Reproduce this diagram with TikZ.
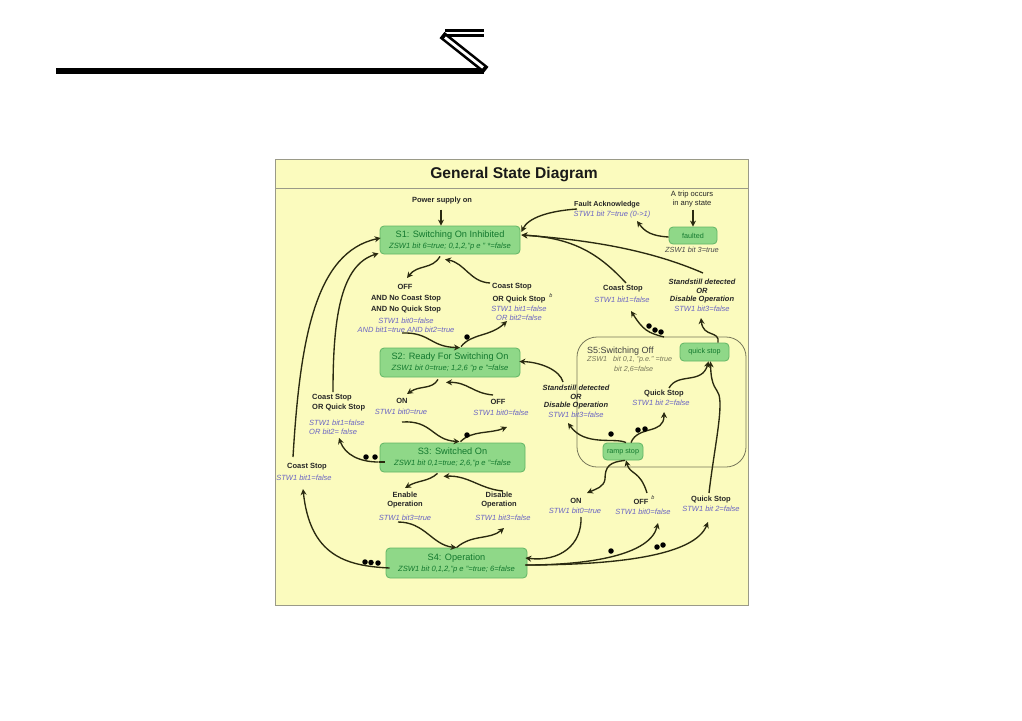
\documentclass[tikz,border=0pt]{standalone}
\usepackage{fontspec}
\setmainfont{Liberation Sans}
\usetikzlibrary{arrows.meta,calc}
\definecolor{panelbg}{HTML}{FBFBBE}
\definecolor{panelln}{HTML}{9A9A88}
\definecolor{stfill}{HTML}{8FD888}
\definecolor{stline}{HTML}{62B565}
\definecolor{stgreen}{HTML}{13782E}
\definecolor{stwblue}{HTML}{6A64C4}
\definecolor{wire}{HTML}{2A2A10}
\definecolor{sfive}{HTML}{77775A}
\tikzset{
  x=1pt,y=-1pt,
  statebox/.style={draw=stline,line width=.8pt,fill=stfill,rounded corners=4pt,inner sep=0pt,align=center,text=stgreen},
  small state/.style={statebox,font=\fontsize{7.2}{8}\selectfont},
  blab/.style={inner sep=0pt,font=\fontsize{7.5}{9}\selectfont\bfseries,text=black!85,align=center},
  blabi/.style={blab,font=\fontsize{7.5}{9}\selectfont\bfseries\itshape},
  stw/.style={inner sep=0pt,font=\fontsize{7.5}{9}\selectfont\itshape,text=stwblue,align=center},
  zsw/.style={inner sep=0pt,font=\fontsize{7.4}{9}\selectfont\itshape,text=black!70,align=center},
  sup/.style={inner sep=0pt,font=\fontsize{5.5}{6}\selectfont\itshape,text=black!80},
  trans/.style={draw=wire,line width=1.35pt,-{Stealth[length=6pt,width=6pt]}},
  plainwire/.style={draw=wire,line width=1.35pt},
  marker/.style={circle,fill=black,inner sep=0pt,minimum size=5.5pt},
}
\newcommand{\sttl}[1]{{\fontsize{9.2}{11}\selectfont #1}}
\newcommand{\ssub}[1]{{\fontsize{7.6}{11}\selectfont\itshape #1}}
\begin{document}
\begin{tikzpicture}
\useasboundingbox (0,0) rectangle (1022,720);
% page glyph
\fill[black] (56,68) rectangle (484,74);
\fill[black] (445,29) rectangle (484,32);
\fill[black] (445,34) rectangle (484,37);
\draw[black,line width=8pt] (442,35) -- (486,70);
\draw[white,line width=2.8pt] (445,37.5) -- (483,67.5);
% panel
\draw[panelln,line width=.8pt,fill=panelbg] (275,159) rectangle (748,605);
\draw[panelln,line width=.6pt] (275,188) -- (748,188);
\node[inner sep=0pt,font=\fontsize{15.6}{18}\selectfont\bfseries,text=black!90] (title) at (514,174) {General State Diagram};
% S5 container
\draw[sfive,line width=.8pt,rounded corners=20pt] (577,337) rectangle (746,467);
% states
\node[statebox,minimum width=140pt,minimum height=28pt] (s1) at (450,240) {\sttl{S1: Switching On Inhibited}\\[-1pt]\ssub{ZSW1 bit 6=true; 0,1,2,"p e " *=false}};
\node[statebox,minimum width=140pt,minimum height=29pt] (s2) at (450,362.5) {\sttl{S2: Ready For Switching On}\\[-1pt]\ssub{ZSW1 bit 0=true; 1,2,6 "p e "=false}};
\node[statebox,minimum width=145pt,minimum height=29pt] (s3) at (452.5,457.5) {\sttl{S3: Switched On}\\[-1pt]\ssub{ZSW1 bit 0,1=true; 2,6,"p e "=false}};
\node[statebox,minimum width=141pt,minimum height=30pt] (s4) at (456.5,563) {\sttl{S4: Operation}\\[-1pt]\ssub{ZSW1 bit 0,1,2,"p e "=true; 6=false}};
\node[small state,minimum width=48pt,minimum height=17pt] (fault) at (693,235.5) {faulted};
\node[small state,minimum width=49pt,minimum height=18pt] (qstop) at (704.5,352) {quick stop};
\node[small state,minimum width=40pt,minimum height=17pt] (rstop) at (623,451.5) {ramp stop};
% S5 texts
\node[inner sep=0pt,anchor=west,font=\fontsize{9}{11}\selectfont,text=black!75] (s5t) at (587,351) {S5:Switching Off};
\node[inner sep=0pt,anchor=west,font=\fontsize{7.2}{9}\selectfont\itshape,text=sfive] (s5a) at (587,360) {ZSW1\ \ \ bit 0,1, "p.e." =true};
\node[inner sep=0pt,anchor=west,font=\fontsize{7.2}{9}\selectfont\itshape,text=sfive] (s5b) at (614,369) {bit 2,6=false};
% labels
\node[blab] (power) at (442,201) {Power supply on};
\node[blab] (off1) at (405,287) {OFF};
\node[blab] (off1a) at (406,298.5) {AND No Coast Stop};
\node[blab] (off1b) at (406,310) {AND No Quick Stop};
\node[stw] (off1c) at (406,321) {STW1 bit0=false};
\node[stw] (off1d) at (406,330) {AND bit1=true AND bit2=true};
\node[blab] (cq1) at (512,287) {Coast Stop};
\node[blab] (cq1a) at (519,300) {OR Quick Stop};
\node[sup] (b1) at (551,296) {b};
\node[stw] (cq1b) at (519,309) {STW1 bit1=false};
\node[stw] (cq1c) at (519,318) {OR bit2=false};
\node[blab] (on2) at (402,401) {ON};
\node[stw] (on2a) at (401,412) {STW1 bit0=true};
\node[blab] (off2) at (498,402) {OFF};
\node[stw] (off2a) at (501,413) {STW1 bit0=false};
\node[blab,anchor=west] (cq3) at (312,398) {Coast Stop};
\node[blab,anchor=west] (cq3a) at (312,408) {OR Quick Stop};
\node[stw,anchor=west] (cq3b) at (309,423) {STW1 bit1=false};
\node[stw,anchor=west] (cq3c) at (309,432) {OR bit2= false};
\node[blab] (cs4) at (307,467) {Coast Stop};
\node[stw] (cs4a) at (304,478) {STW1 bit1=false};
\node[blab] (en) at (405,500.5) {Enable\\Operation};
\node[stw] (ena) at (405,518) {STW1 bit3=true};
\node[blab] (dis) at (499,500.5) {Disable\\Operation};
\node[stw] (disa) at (503,518) {STW1 bit3=false};
\node[blab,font=\fontsize{7.2}{9}\selectfont\bfseries] (ack) at (607,205) {Fault Acknowledge};
\node[stw] (acka) at (612,215) {STW1 bit 7=true (0->1)};
\node[blab,font=\fontsize{7.6}{9}\selectfont] (trip) at (692,199.5) {A trip occurs\\in any state};
\node[zsw] (fz) at (692,250) {ZSW1 bit 3=true};
\node[blab] (cs5) at (623,289) {Coast Stop};
\node[stw] (cs5a) at (622,300) {STW1 bit1=false};
\node[blabi] (ss1) at (702,282) {Standstill detected};
\node[blabi] (ss1a) at (702,291) {OR};
\node[blabi] (ss1b) at (702,300) {Disable Operation};
\node[stw] (ss1c) at (702,309) {STW1 bit3=false};
\node[blab] (qs1) at (664,394) {Quick Stop};
\node[stw] (qs1a) at (661,403) {STW1 bit 2=false};
\node[blabi] (ss2) at (576,388) {Standstill detected};
\node[blabi] (ss2a) at (576,397) {OR};
\node[blabi] (ss2b) at (576,406) {Disable Operation};
\node[stw] (ss2c) at (576,415) {STW1 bit3=false};
\node[blab] (on5) at (576,501) {ON};
\node[stw] (on5a) at (575,511) {STW1 bit0=true};
\node[blab] (off5) at (641,502) {OFF};
\node[sup] (b5) at (653,498) {b};
\node[stw] (off5a) at (643,512) {STW1 bit0=false};
\node[blab] (qs5) at (711,500) {Quick Stop};
\node[stw] (qs5a) at (711,509) {STW1 bit 2=false};
% free ends
\coordinate (e1) at (407,278);
\coordinate (e2) at (490,283);
\coordinate (e3) at (293,457);
\coordinate (e4) at (333,392);
\coordinate (e5) at (402,333);
\coordinate (e6) at (507,321);
\coordinate (e7) at (407,394);
\coordinate (e8) at (493,395);
\coordinate (e9) at (402,422);
\coordinate (e10) at (507,427);
\coordinate (e11) at (339,438);
\coordinate (e12) at (405,488);
\coordinate (e13) at (503,491);
\coordinate (e14) at (398,522);
\coordinate (e15) at (504,528);
\coordinate (e16) at (303,489);
\coordinate (e17) at (577,209);
\coordinate (e18) at (637,221);
\coordinate (e19) at (626,283);
\coordinate (e20) at (703,273);
\coordinate (e21) at (631,311);
\coordinate (e22) at (701,318);
\coordinate (e23) at (563,382);
\coordinate (e24) at (568,423);
\coordinate (e25) at (664,412);
\coordinate (e26) at (669,388);
\coordinate (e27) at (709,493);
\coordinate (e28) at (587,493);
\coordinate (e29) at (647,493);
\coordinate (e30) at (581,517);
\coordinate (e31) at (658,523);
\coordinate (e32) at (708,522);
\coordinate (s5top) at (664,337);
\coordinate (bend1) at (719,395);
\coordinate (bend2) at (605,479);
% connectors
\draw[trans] (power.south) ++(-1,5) -- ($(s1.north)+(-9,0)$);
\draw[trans] (trip.south) ++(1,2) -- (fault.north);
\draw[trans] ($(s1.south)+(-10,2)$) .. controls (432,270) and (418,264) .. (e1);
\draw[trans] (e2) .. controls (470,282) and (465,263) .. ($(s1.south)+(-5,5)$);
\draw[trans] (e3) .. controls (300,340) and (315,252) .. ($(s1.west)+(1,-2)$);
\draw[trans] (e4) .. controls (333,320) and (340,265) .. ($(s1.south west)+(-1,-1)$);
\draw[trans] (e5) .. controls (430,332) and (430,347) .. ($(s2.north)+(10,0)$);
\draw[trans] ($(s2.north)+(11,-1)$) .. controls (472,333) and (490,337) .. (e6);
\draw[trans] ($(s2.south)+(-12,2)$) .. controls (432,390) and (420,385) .. (e7);
\draw[trans] (e8) .. controls (472,393) and (468,382) .. ($(s2.south)+(-4,5)$);
\draw[trans] (e9) .. controls (432,420) and (432,440) .. ($(s3.north)+(7,-1)$);
\draw[trans] ($(s3.north)+(8,-1)$) .. controls (472,430) and (490,434) .. (e10);
\draw[plainwire] ($(s3.west)+(5,4.5)$) -- ($(s3.west)+(-1,4.5)$);
\draw[trans] ($(s3.west)+(-1,4.5)$) .. controls (360,462) and (345,455) .. (e11);
\draw[trans] ($(s3.south)+(-15,1)$) .. controls (428,482) and (418,480) .. (e12);
\draw[trans] (e13) .. controls (480,489) and (468,475) .. ($(s3.south)+(-9,4)$);
\draw[trans] (e14) .. controls (425,522) and (432,545) .. ($(s4.north)+(0,0)$);
\draw[trans] ($(s4.north)+(0,0)$) .. controls (472,534) and (490,540) .. (e15);
\draw[trans] ($(s4.west)+(4,5)$) .. controls (345,566) and (310,555) .. (e16);
\draw[trans] (e17) .. controls (548,211) and (528,218) .. ($(s1.east)+(1,-8)$);
\draw[trans] (fault.west) ++(0,1.5) .. controls (652,236) and (645,232) .. (e18);
\draw[trans] (e19) .. controls (600,255) and (575,238) .. ($(s1.east)+(1,-5)$);
\draw[trans] (e20) .. controls (650,250) and (590,240) .. ($(s1.east)+(1,-5)$);
\draw[trans] (s5top) .. controls (648,333) and (643,330) .. (e21);
\draw[trans] ($(qstop.north)+(13.5,0)$) .. controls (720,330) and (703,338) .. (e22);
\draw[trans] (e23) .. controls (560,370) and (540,362) .. ($(s2.east)+(-1,-1)$);
\draw[trans] ($(rstop.north)+(3,0)$) .. controls (615,437) and (585,447) .. (e24);
\draw[trans] ($(rstop.north)+(8,0)$) .. controls (638,425) and (664,435) .. (e25);
\draw[trans] (e26) .. controls (678,372) and (702,385) .. ($(qstop.south)+(4,0)$);
\draw[trans] (e27) .. controls (714,450) and (723,410) .. (bend1) .. controls (717,388) and (711,388) .. ($(qstop.south)+(6,0)$);
\draw[trans] ($(rstop.south)+(2,0)$) .. controls (610,462) and (605,466) .. (bend2) .. controls (604,487) and (596,489) .. (e28);
\draw[trans] (e29) .. controls (640,470) and (630,475) .. ($(rstop.south)+(3,0)$);
\draw[trans] (e30) .. controls (582,545) and (560,562) .. ($(s4.east)+(-2,-5)$);
\draw[trans] ($(s4.east)+(-2,2)$) .. controls (590,565) and (650,555) .. (e31);
\draw[trans] ($(s4.east)+(-2,2)$) .. controls (620,565) and (695,555) .. (e32);
% marks
\foreach \n/\p in {a/{467,337},b/{467,435},c/{366,457},d/{375,457},e/{365,562},f/{371,562.5},g/{378,563},h/{649,326},i/{655,330},j/{661,332},k/{611,434},l/{638,430},m/{645,429},n/{611,551},o/{657,547},p/{663,545}}
  \node[marker] (dot\n) at (\p) {};
\end{tikzpicture}
\end{document}
